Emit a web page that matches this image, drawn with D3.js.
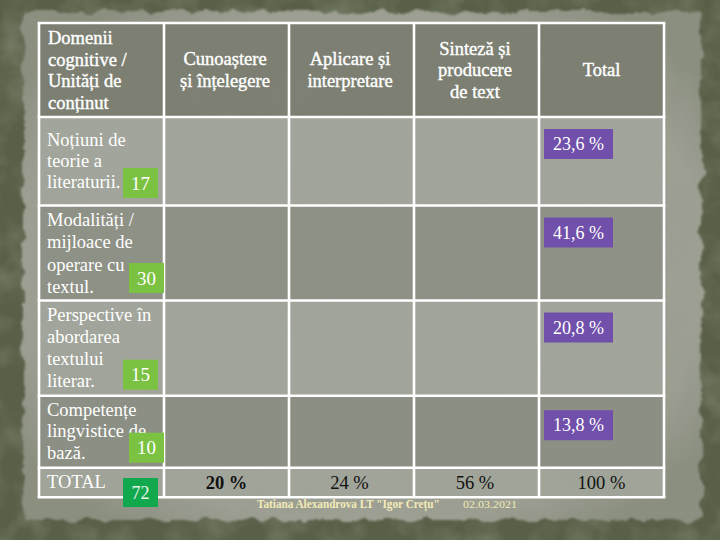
<!DOCTYPE html>
<html><head><meta charset="utf-8">
<script src="https://cdn.jsdelivr.net/npm/d3@7"></script>
<style>html,body{margin:0;padding:0;background:#555c46;}svg{display:block;}</style>
</head><body>
<script>
// ---- data ----
const headers = [
  ["Domenii", "cognitive /", "Unități de", "conținut"],
  ["Cunoaștere", "și  înțelegere"],
  ["Aplicare  și", "interpretare"],
  ["Sinteză  și", "producere", "de text"],
  ["Total"]
];
const categories = [
  ["Noțiuni de", "teorie a", "literaturii."],
  ["Modalități /", "mijloace  de", "operare cu", "textul."],
  ["Perspective în", "abordarea", "textului", "literar."],
  ["Competențe", "lingvistice de", "bază."]
];
const counts = [17, 30, 15, 10];
const totalCount = 72;
const percents = [23.6, 41.6, 20.8, 13.8];
const totalLabel = "TOTAL";
const totalRow = ["20 %", "24 %", "56 %", "100 %"];
const footer = "Tatiana Alexandrova LT \"Igor Crețu\"";
const footerDate = "02.03.2021";

// ---- layout ----
const W = 720, H = 540;
const svg = d3.select("body").append("svg").attr("width", W).attr("height", H);
const defs = svg.append("defs");

const f2 = defs.append("filter").attr("id","rough").attr("x","-5%").attr("y","-5%").attr("width","110%").attr("height","110%");
f2.append("feTurbulence").attr("type","fractalNoise").attr("baseFrequency","0.05").attr("numOctaves",3).attr("seed",7).attr("result","t");
f2.append("feDisplacementMap").attr("in","SourceGraphic").attr("in2","t").attr("scale",12).attr("xChannelSelector","R").attr("yChannelSelector","G").attr("result","d");
f2.append("feGaussianBlur").attr("in","d").attr("stdDeviation",1);

const f3 = defs.append("filter").attr("id","blotch").attr("x",0).attr("y",0).attr("width","100%").attr("height","100%");
f3.append("feTurbulence").attr("type","fractalNoise").attr("baseFrequency","0.03").attr("numOctaves",3).attr("seed",11).attr("result","n");
f3.append("feColorMatrix").attr("in","n").attr("type","matrix")
  .attr("values","0 0 0 0 0.22  0 0 0 0 0.25  0 0 0 0 0.17  0 0 0 -2.0 1.2");

const f4 = defs.append("filter").attr("id","soft").attr("x",0).attr("y",0).attr("width","100%").attr("height","100%");
f4.append("feTurbulence").attr("type","fractalNoise").attr("baseFrequency","0.012").attr("numOctaves",2).attr("seed",5).attr("result","n");
f4.append("feColorMatrix").attr("in","n").attr("type","matrix")
  .attr("values","0 0 0 0 0.3  0 0 0 0 0.32  0 0 0 0 0.27  0 0 0 -1.5 0.85");

// dark background
svg.append("rect").attr("width",W).attr("height",H).attr("fill","#596048");
svg.append("rect").attr("width",W).attr("height",H).attr("fill","#3f4632").attr("filter","url(#blotch)").attr("opacity",0.6);

// paper
const rg = defs.append("radialGradient").attr("id","pg").attr("cx","50%").attr("cy","50%").attr("r","62%");
rg.append("stop").attr("offset","0%").attr("stop-color","#a2a59a");
rg.append("stop").attr("offset","82%").attr("stop-color","#9c9f92");
rg.append("stop").attr("offset","100%").attr("stop-color","#8b8f80");
svg.append("rect").attr("x",23).attr("y",12).attr("width",678).attr("height",508).attr("rx",5)
  .attr("fill","url(#pg)").attr("filter","url(#rough)");
svg.append("rect").attr("x",30).attr("y",18).attr("width",664).attr("height",496)
  .attr("fill","#555a48").attr("filter","url(#soft)").attr("opacity",0.35);

// table geometry
const x0 = 39, x1 = 664;
const xScale = d3.scaleBand().domain(d3.range(headers.length)).range([x0, x1]);
const rowEdges = [23, 117, 205.5, 300.5, 395.7, 467.7, 497.3];
const rowFill = ["#7c7f72", "#a2a59b", "#8e9186", "#a2a59b", "#8c8f84", "#a1a499"];

const tbl = svg.append("g");
tbl.selectAll("rect.row").data(rowFill).join("rect").attr("class","row")
  .attr("x", x0).attr("width", x1 - x0)
  .attr("y", (d,i)=>rowEdges[i]).attr("height",(d,i)=>rowEdges[i+1]-rowEdges[i])
  .attr("fill", d=>d);
tbl.append("rect").attr("x",x0).attr("y",rowEdges[0]).attr("width",x1-x0).attr("height",rowEdges[6]-rowEdges[0])
  .attr("fill","#555a48").attr("filter","url(#soft)").attr("opacity",0.12);

// grid lines
const gl = tbl.append("g").attr("stroke","#ffffff").attr("stroke-width",2.6);
rowEdges.forEach(y=>gl.append("line").attr("x1",x0-1.3).attr("x2",x1+1.3).attr("y1",y).attr("y2",y));
d3.range(headers.length+1).forEach(i=>{
  const x = i < headers.length ? xScale(i) : x1;
  gl.append("line").attr("x1",x).attr("x2",x).attr("y1",rowEdges[0]).attr("y2",rowEdges[6]);
});

const serif = "'Liberation Serif','DejaVu Serif',serif";

// headers
const hdrOffsets = [0, -1.5, -1.5, -1.5, 0];
headers.forEach((lines,i)=>{
  const left = i===0;
  const cx = left ? xScale(i)+9 : xScale(i)+xScale.bandwidth()/2 + hdrOffsets[i];
  const lh = 21.5;
  const midY = (rowEdges[0]+rowEdges[1])/2;
  const startY = left ? 44 : midY - (lines.length-1)*lh/2 + 6;
  const t = svg.append("text").attr("font-family",serif).attr("font-size",18.5)
    .attr("fill","#ffffff").attr("text-anchor", left ? "start" : "middle")
    .attr("stroke","#ffffff").attr("stroke-width",0.4);
  lines.forEach((l,j)=>t.append("tspan").attr("x",cx).attr("y",startY+j*lh).text(l));
});

// category rows
const catFirst = [29, 20.5, 20.5, 20];
const catLh = [21, 22.3, 22, 21.5];
categories.forEach((lines,i)=>{
  const top = rowEdges[i+1];
  const t = svg.append("text").attr("font-family",serif).attr("font-size",18.5).attr("fill","#ffffff");
  lines.forEach((l,j)=>t.append("tspan").attr("x",x0+8).attr("y",top+catFirst[i]+j*catLh[i]).text(l));
});

// green count boxes
const boxLeft = [123, 129, 123, 129];
const boxBottomGap = [7.5, 7.5, 6, 5];
const bw = 35, bh = 30;
const countG = svg.append("g");
countG.selectAll("rect").data(counts).join("rect")
  .attr("x",(d,i)=>boxLeft[i]).attr("y",(d,i)=>rowEdges[i+2]-boxBottomGap[i]-bh)
  .attr("width",bw).attr("height",bh).attr("fill","#7cc242");
countG.selectAll("text").data(counts).join("text")
  .attr("x",(d,i)=>boxLeft[i]+bw/2).attr("y",(d,i)=>rowEdges[i+2]-boxBottomGap[i]-bh/2+6.5)
  .attr("text-anchor","middle").attr("font-family",serif).attr("font-size",19).attr("fill","#ffffff")
  .text(d=>d);

// total row
const tTop = rowEdges[5];
svg.append("text").attr("x",x0+8).attr("y",tTop+20).attr("font-family",serif).attr("font-size",18.5)
  .attr("fill","#ffffff").text(totalLabel);
svg.append("rect").attr("x",123).attr("y",478).attr("width",35).attr("height",29).attr("fill","#12a84e");
svg.append("text").attr("x",140.5).attr("y",498.5).attr("text-anchor","middle").attr("font-family",serif)
  .attr("font-size",18).attr("fill","#e8f5e8").text(totalCount);

const totOffsets = [0, -2, -1.5, 0];
svg.append("g").selectAll("text").data(totalRow).join("text")
  .attr("x",(d,i)=>xScale(i+1)+xScale.bandwidth()/2 + totOffsets[i])
  .attr("y",tTop+21).attr("text-anchor","middle").attr("font-family",serif).attr("font-size",18.5)
  .attr("font-weight",(d,i)=>i===0?"bold":"normal").attr("fill","#111111").text(d=>d);

// percent boxes
const fmt = v => d3.format(".1f")(v).replace(".", ",") + " %";
const pG = svg.append("g");
const pColX = xScale(4);
pG.selectAll("rect").data(percents).join("rect")
  .attr("x",pColX+5).attr("y",(d,i)=>rowEdges[i+1]+(i===3?14.5:12))
  .attr("width",69).attr("height",30).attr("fill","#7050aa");
pG.selectAll("text").data(percents).join("text")
  .attr("x",pColX+5+34.5).attr("y",(d,i)=>rowEdges[i+1]+(i===3?14.5:12)+21)
  .attr("text-anchor","middle").attr("font-family",serif).attr("font-size",18).attr("fill","#ffffff")
  .text(d=>fmt(d));

// footer (condensed via horizontal scale)
const ft = svg.append("text").attr("font-family",serif).attr("font-size",13)
  .attr("font-weight","bold").attr("fill","#f3ebb8").attr("x",0).attr("y",0).text(footer);
const fw = ft.node().getComputedTextLength();
ft.attr("transform",`translate(257,508) scale(${183/fw},1)`);
const fd = svg.append("text").attr("font-family",serif).attr("font-size",11)
  .attr("fill","#f3ebb8").attr("x",0).attr("y",0).text(footerDate);
const dw = fd.node().getComputedTextLength();
fd.attr("transform",`translate(463,508) scale(${54/dw},1)`);
</script>
</body></html>
